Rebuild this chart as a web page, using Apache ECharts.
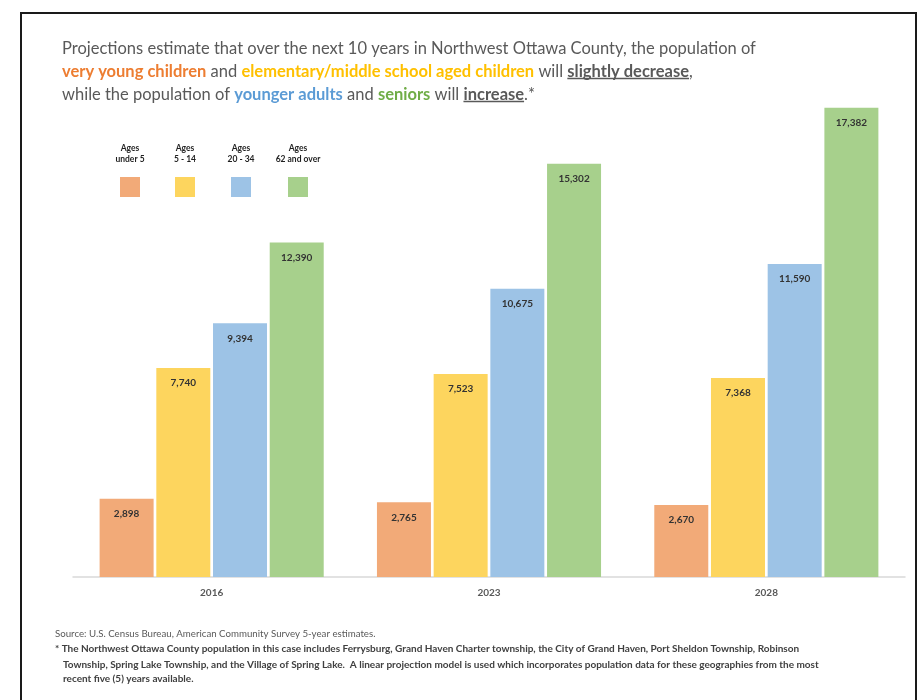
<!DOCTYPE html>
<html>
<head>
<meta charset="utf-8">
<script src="https://cdn.jsdelivr.net/npm/echarts@6/dist/echarts.min.js"></script>
<style>
  html, body { margin: 0; padding: 0; background: #fff; }
  #chart { width: 919px; height: 700px; }
</style>
</head>
<body>
<div id="chart"></div>
<script>
const years = ['2016', '2023', '2028']
const groupNames = ['Ages\nunder 5', 'Ages\n5 - 14', 'Ages\n20 - 34', 'Ages\n62 and over']
const under5 = [2898, 2765, 2670]
const age5to14 = [7740, 7523, 7368]
const age20to34 = [9394, 10675, 11590]
const age62plus = [12390, 15302, 17382]
const colors = ['#F2AA78', '#FDD55E', '#9DC3E6', '#A7D08C']

const seriesValues = [under5, age5to14, age20to34, age62plus]
const font = 'Lato, "Open Sans", sans-serif'
const titleSize = 16.5
const titleLeft = 62
const titleTop = 37   // top of first text line
const titleLH = 23

const chart = echarts.init(document.getElementById('chart'))

// measure title pieces so the underlines sit under the right words
const ctx = document.createElement('canvas').getContext('2d')
function w(text, bold) {
  ctx.font = (bold ? 'bold ' : '') + titleSize + 'px ' + font
  return ctx.measureText(text).width
}
const u1x = titleLeft + w('very young children', true) + w(' and ') +
  w('elementary/middle school aged children', true) + w(' will ')
const u1w = w('slightly decrease', true)
const u2x = titleLeft + w('while the population of ') + w('younger adults', true) +
  w(' and ') + w('seniors', true) + w(' will ')
const u2w = w('increase', true)
const u1y = titleTop + titleLH * 1.5 + 7
const u2y = titleTop + titleLH * 2.5 + 7

// legend drawn as text over square, like the original
const legendX = [130, 185, 241, 298]
const legendItems = []
groupNames.forEach((name, i) => {
  legendItems.push({
    type: 'text',
    x: legendX[i],
    y: 143,
    style: {
      text: name,
      align: 'center',
      fill: '#1f1f1f',
      font: 'bold 8.5px ' + font,
      lineHeight: 11,
    },
  })
  legendItems.push({
    type: 'rect',
    shape: { x: legendX[i] - 10, y: 177, width: 20, height: 20 },
    style: { fill: colors[i] },
  })
})

const footer = 'Source: U.S. Census Bureau, American Community Survey 5-year estimates.'
const note = [
  '* The Northwest Ottawa County population in this case includes Ferrysburg, Grand Haven Charter township, the City of Grand Haven, Port Sheldon Township, Robinson',
  'Township, Spring Lake Township, and the Village of Spring Lake.  A linear projection model is used which incorporates population data for these geographies from the most',
  'recent five (5) years available.',
]

chart.setOption({
  animation: false,
  title: {
    left: titleLeft,
    top: titleTop,
    padding: 0,
    text: 'Projections estimate that over the next 10 years in Northwest Ottawa County, the population of\n' +
      '{o|very young children} and {y|elementary/middle school aged children} will {u|slightly decrease},\n' +
      'while the population of {b|younger adults} and {g|seniors} will {u|increase}.*',
    textStyle: {
      fontFamily: font,
      fontSize: titleSize,
      fontWeight: 'normal',
      color: '#595959',
      lineHeight: titleLH,
      rich: {
        o: { color: '#ED7D31', fontWeight: 'bold', fontSize: titleSize, fontFamily: font, lineHeight: titleLH },
        y: { color: '#FFC000', fontWeight: 'bold', fontSize: titleSize, fontFamily: font, lineHeight: titleLH },
        b: { color: '#5B9BD5', fontWeight: 'bold', fontSize: titleSize, fontFamily: font, lineHeight: titleLH },
        g: { color: '#70AD47', fontWeight: 'bold', fontSize: titleSize, fontFamily: font, lineHeight: titleLH },
        u: { color: '#595959', fontWeight: 'bold', fontSize: titleSize, fontFamily: font, lineHeight: titleLH },
      },
    },
  },
  grid: { left: 73, right: 14, top: 91, bottom: 123 },
  xAxis: {
    type: 'category',
    data: years,
    axisLine: { lineStyle: { color: '#D9D9D9', width: 1.5 } },
    axisTick: { show: false },
    axisLabel: { color: '#595959', fontFamily: font, fontWeight: 'bold', fontSize: 10, margin: 11 },
  },
  yAxis: {
    type: 'value',
    min: 0,
    max: 18000,
    show: false,
    splitLine: { show: false },
  },
  series: seriesValues.map((vals, i) => ({
    type: 'bar',
    name: groupNames[i],
    data: vals,
    barWidth: 54,
    barGap: '5%',
    itemStyle: { color: colors[i] },
    label: {
      show: true,
      position: 'insideTop',
      distance: 10,
      color: '#333333',
      fontFamily: font,
      fontWeight: 'bold',
      fontSize: 10,
      formatter: (p) => p.value.toLocaleString('en-US'),
    },
  })),
  graphic: [
    {
      type: 'rect',
      shape: { x: 21, y: 13, width: 895, height: 700 },
      style: { fill: 'none', stroke: '#1a1a1a', lineWidth: 2 },
      silent: true,
    },
    // underlines for the emphasised words in the title
    { type: 'line', shape: { x1: u1x, y1: u1y, x2: u1x + u1w, y2: u1y }, style: { stroke: '#595959', lineWidth: 1.5 } },
    { type: 'line', shape: { x1: u2x, y1: u2y, x2: u2x + u2w, y2: u2y }, style: { stroke: '#595959', lineWidth: 1.5 } },
    ...legendItems,
    {
      type: 'text',
      x: 55,
      y: 629,
      style: { text: footer, fill: '#595959', font: '9.7px ' + font },
    },
    {
      type: 'text',
      x: 55,
      y: 644,
      style: { text: note[0], fill: '#404040', font: 'bold 10px ' + font },
    },
    {
      type: 'text',
      x: 63,
      y: 658,
      style: { text: note[1] + '\n' + note[2], fill: '#404040', font: 'bold 10px ' + font, lineHeight: 14 },
    },
  ],
})
</script>
</body>
</html>
